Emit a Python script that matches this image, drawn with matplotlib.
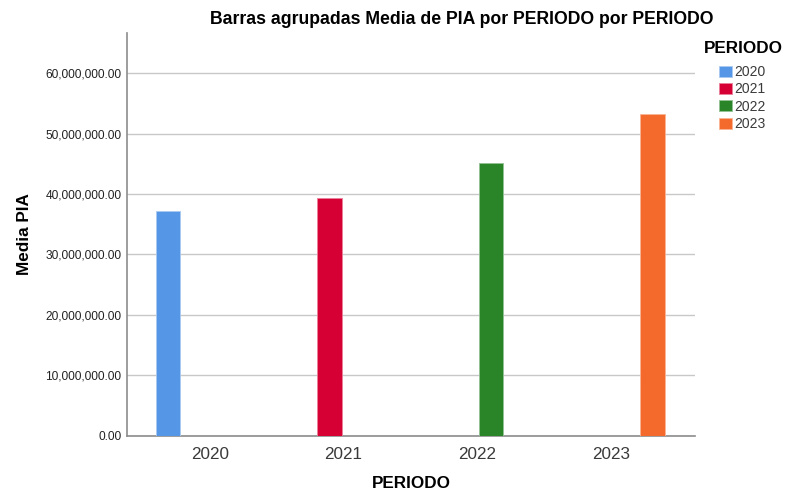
import matplotlib
matplotlib.use("Agg")
import matplotlib.pyplot as plt
from matplotlib.patches import Patch
from matplotlib.ticker import FuncFormatter

plt.rcParams['font.family'] = ['Liberation Sans', 'DejaVu Sans']

periods = ["2020", "2021", "2022", "2023"]
media_pia = [37150000, 39400000, 45150000, 53200000]
colors = ["#5596E6", "#D70034", "#2A8529", "#F4692C"]
edge_colors = ["#A9C9F0", "#EA8099", "#95C294", "#F9B495"]

fig = plt.figure(figsize=(7.87, 4.90), dpi=100)
ax = fig.add_axes([127/787, 1-435.7/490, (695-127)/787, (435.7-33.3)/490])

n = len(periods)
slot = 0.208
width = 0.182
for j, (p, v) in enumerate(zip(periods, media_pia)):
    x = j + (j - (n - 1) / 2) * slot
    ax.bar(x, v, width=width, color=colors[j], edgecolor=edge_colors[j],
           linewidth=0.6, zorder=3)

ax.set_xlim(-0.62, 3.63)
ax.set_ylim(0, 66.6e6)
ax.set_yticks([0, 10e6, 20e6, 30e6, 40e6, 50e6, 60e6])
ax.yaxis.set_major_formatter(FuncFormatter(lambda v, p: f"{v:,.2f}"))
ax.set_xticks(range(n))
ax.set_xticklabels(periods, fontsize=12.3, color="#3a3a3a")
ax.tick_params(axis='y', labelsize=8.6, length=0, pad=4, labelcolor="#222222")
ax.tick_params(axis='x', length=0, pad=8)
ax.grid(axis='y', color="#C8C8C8", linewidth=1.0, zorder=0)
ax.set_axisbelow(True)
for s in ["top", "right"]:
    ax.spines[s].set_visible(False)
ax.spines["left"].set_color("#8C8C8C")
ax.spines["bottom"].set_color("#8C8C8C")
ax.spines["left"].set_linewidth(1.2)
ax.spines["bottom"].set_linewidth(1.2)

ax.set_xlabel("PERIODO", fontsize=12.3, fontweight="bold", labelpad=10)
ax.set_ylabel("Media PIA", fontsize=12.3, fontweight="bold", labelpad=10)

fig.text(462/787, 1-20/490, "Barras agrupadas Media de PIA por PERIODO por PERIODO",
         ha="center", va="center", fontsize=12.7, fontweight="bold")

fig.text(704/787, 1-48.5/490, "PERIODO", ha="left", va="center",
         fontsize=12.3, fontweight="bold")

handles = [Patch(facecolor=c, edgecolor=e, linewidth=0.6) for c, e in zip(colors, edge_colors)]
leg = fig.legend(handles, periods, loc="upper left", bbox_to_anchor=(719/787, 1-65/490),
                 frameon=False, fontsize=10, handlelength=0.93,
                 handleheight=0.86, handletextpad=0.2, labelspacing=0.24,
                 borderaxespad=0, borderpad=0)
for t in leg.get_texts():
    t.set_color("#3a3a3a")

fig.savefig("out.png", dpi=100)
